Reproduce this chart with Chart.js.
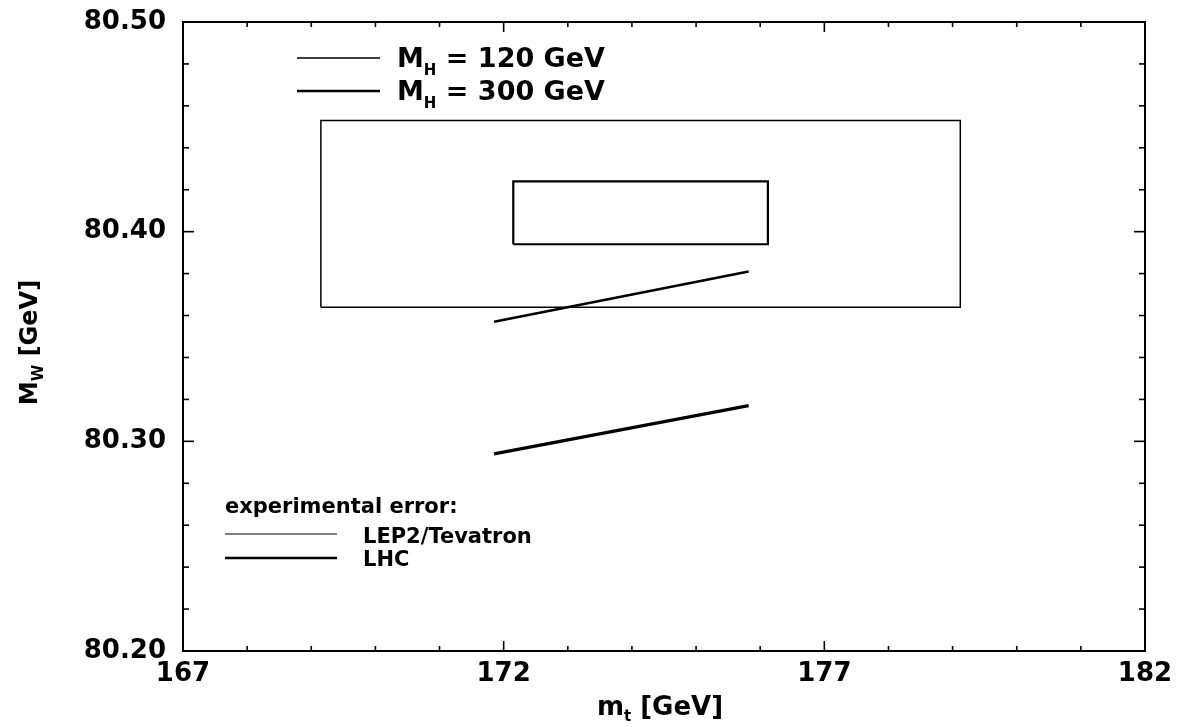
<!DOCTYPE html>
<html>
<head>
<meta charset="utf-8">
<script src="https://cdn.jsdelivr.net/npm/chart.js@4/dist/chart.umd.min.js"></script>
<style>
  html, body { margin: 0; padding: 0; background: #fff; }
  #wrap { width: 1177px; height: 727px; }
</style>
</head>
<body>
<div id="wrap"><canvas id="c" width="1177" height="727"></canvas></div>
<script>
// Experimental error boxes (top mass range, W mass range)
const mtRangeTevatron = [169.15, 179.12];
const mwRangeTevatron = [80.364, 80.453];
const mtRangeLHC = [172.15, 176.12];
const mwRangeLHC = [80.394, 80.424];

// Standard Model predictions for two Higgs masses
const mtHiggsLines = [171.85, 175.82];
const mwHiggs120 = [80.357, 80.381];
const mwHiggs300 = [80.294, 80.317];

// Labelled axis ticks
const xTickValues = [167, 172, 177, 182];
const yTickValues = [80.20, 80.30, 80.40, 80.50];

const FONT = '"DejaVu Sans", "Liberation Sans", sans-serif';

function boxPoints(xr, yr) {
  return [
    { x: xr[0], y: yr[0] }, { x: xr[1], y: yr[0] },
    { x: xr[1], y: yr[1] }, { x: xr[0], y: yr[1] },
    { x: xr[0], y: yr[0] }
  ];
}
function linePoints(xs, ys) {
  return xs.map((x, i) => ({ x: x, y: ys[i] }));
}

// draws a run of text pieces, some of them as subscripts
function drawRich(ctx, parts, x, y, size, subSize, subDrop) {
  let cx = x;
  for (const p of parts) {
    ctx.font = 'bold ' + (p.sub ? subSize : size) + 'px ' + FONT;
    ctx.fillText(p.t, cx, p.sub ? y + subDrop : y);
    cx += ctx.measureText(p.t).width;
  }
  return cx - x;
}
function richWidth(ctx, parts, size, subSize) {
  let w = 0;
  for (const p of parts) {
    ctx.font = 'bold ' + (p.sub ? subSize : size) + 'px ' + FONT;
    w += ctx.measureText(p.t).width;
  }
  return w;
}

const datasets = [
  { label: 'LEP2/Tevatron', data: boxPoints(mtRangeTevatron, mwRangeTevatron), borderWidth: 1.5 },
  { label: 'LHC', data: boxPoints(mtRangeLHC, mwRangeLHC), borderWidth: 2.2 },
  { label: 'M_H = 120 GeV', data: linePoints(mtHiggsLines, mwHiggs120), borderWidth: 2.6 },
  { label: 'M_H = 300 GeV', data: linePoints(mtHiggsLines, mwHiggs300), borderWidth: 3.2 }
].map(d => Object.assign(d, {
  showLine: true, pointRadius: 0, pointHoverRadius: 0,
  borderColor: '#000', backgroundColor: '#000', fill: false,
  borderJoinStyle: 'miter', borderCapStyle: 'butt', tension: 0
}));

// frame with inward ticks on all four sides
const frameTicks = {
  id: 'frameTicks',
  afterDatasetsDraw(chart) {
    const { ctx, chartArea: a, scales: { x, y } } = chart;
    ctx.save();
    ctx.strokeStyle = '#000';
    ctx.lineWidth = 2;
    ctx.strokeRect(a.left, a.top, a.right - a.left, a.bottom - a.top);
    ctx.lineWidth = 1.6;
    const seg = (x1, y1, x2, y2) => { ctx.beginPath(); ctx.moveTo(x1, y1); ctx.lineTo(x2, y2); ctx.stroke(); };
    for (let i = 0; ; i++) {
      const v = x.min + i;
      if (v > x.max + 1e-9) break;
      const px = x.getPixelForValue(v);
      const major = xTickValues.some(t => Math.abs(t - v) < 1e-6);
      const len = major ? 10 : 5;
      seg(px, a.bottom, px, a.bottom - len);
      seg(px, a.top, px, a.top + len);
    }
    for (let i = 0; ; i++) {
      const v = y.min + i * 0.02;
      if (v > y.max + 1e-9) break;
      const py = y.getPixelForValue(v);
      const major = yTickValues.some(t => Math.abs(t - v) < 1e-6);
      const len = major ? 11 : 6;
      seg(a.left, py, a.left + len, py);
      seg(a.right, py, a.right - len, py);
    }
    ctx.restore();
  }
};

// legends and axis titles with subscripts
const annotations = {
  id: 'annotations',
  afterDraw(chart) {
    const { ctx, chartArea: a } = chart;
    ctx.save();
    ctx.fillStyle = '#000';
    ctx.strokeStyle = '#000';
    ctx.textBaseline = 'alphabetic';
    ctx.textAlign = 'left';
    const seg = (x1, y1, x2, lw) => { ctx.lineWidth = lw; ctx.beginPath(); ctx.moveTo(x1, y1); ctx.lineTo(x2, y1); ctx.stroke(); };

    // Higgs mass legend
    seg(297, 58, 380, 1.5);
    drawRich(ctx, [{ t: 'M' }, { t: 'H', sub: true }, { t: ' = 120 GeV' }], 397, 67, 27, 15, 8);
    seg(297, 91, 380, 2.4);
    drawRich(ctx, [{ t: 'M' }, { t: 'H', sub: true }, { t: ' = 300 GeV' }], 397, 100, 27, 15, 8);

    // experimental error legend
    ctx.font = 'bold 21px ' + FONT;
    ctx.fillText('experimental error:', 225, 513);
    seg(225, 534, 337, 1.2);
    ctx.font = 'bold 21px ' + FONT;
    ctx.fillText('LEP2/Tevatron', 363, 543);
    seg(225, 558, 337, 2.4);
    ctx.font = 'bold 21px ' + FONT;
    ctx.fillText('LHC', 363, 566);

    // x axis title
    const xParts = [{ t: 'm' }, { t: 't', sub: true }, { t: ' [GeV]' }];
    const xw = richWidth(ctx, xParts, 26, 15);
    drawRich(ctx, xParts, (a.left + a.right) / 2 - 4 - xw / 2, 715, 26, 15, 6);

    // y axis title
    const yParts = [{ t: 'M' }, { t: 'W', sub: true }, { t: ' [GeV]' }];
    const yw = richWidth(ctx, yParts, 24, 15);
    ctx.translate(37, (a.top + a.bottom) / 2 + 6);
    ctx.rotate(-Math.PI / 2);
    drawRich(ctx, yParts, -yw / 2, 0, 24, 15, 6);
    ctx.restore();
  }
};

new Chart(document.getElementById('c'), {
  type: 'scatter',
  data: { datasets: datasets },
  options: {
    responsive: false,
    animation: false,
    devicePixelRatio: 1,
    layout: { padding: { top: 22, right: 32, bottom: 0, left: 0 } },
    plugins: { legend: { display: false }, tooltip: { enabled: false } },
    scales: {
      x: {
        type: 'linear', min: 167, max: 182,
        afterBuildTicks: s => { s.ticks = xTickValues.map(v => ({ value: v })); },
        afterFit: s => { s.height = 76; s.paddingLeft = 0; s.paddingRight = 0; },
        grid: { display: false, drawTicks: false },
        border: { display: false },
        ticks: {
          padding: 8, color: '#000', autoSkip: false, maxRotation: 0,
          font: { family: FONT, size: 26, weight: 'bold' },
          callback: v => String(v)
        }
      },
      y: {
        type: 'linear', min: 80.2, max: 80.5,
        afterBuildTicks: s => { s.ticks = yTickValues.map(v => ({ value: v })); },
        afterFit: s => { s.width = 183; s.paddingTop = 0; s.paddingBottom = 0; },
        grid: { display: false, drawTicks: false },
        border: { display: false },
        ticks: {
          padding: 17, color: '#000', autoSkip: false,
          font: { family: FONT, size: 26, weight: 'bold' },
          callback: v => Number(v).toFixed(2)
        }
      }
    }
  },
  plugins: [frameTicks, annotations]
});
</script>
</body>
</html>
